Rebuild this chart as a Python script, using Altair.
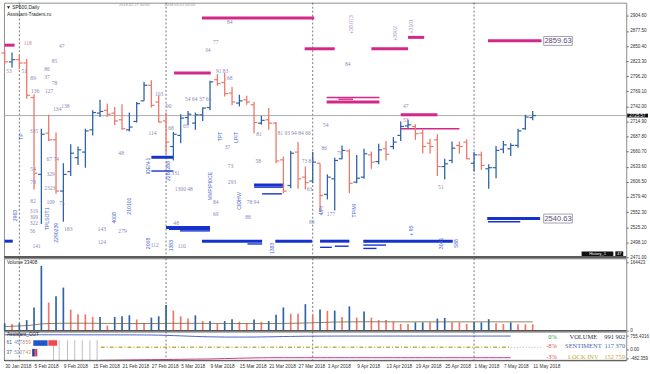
import altair as alt
import pandas as pd

# ---------------- data ----------------
date_idx = [0, 4, 8, 12, 16, 20, 24, 28, 32, 36, 40, 44, 48, 52, 56, 60, 64, 68, 72]
date_lbl = ["30 Jan 2018", "5 Feb 2018", "9 Feb 2018", "15 Feb 2018", "21 Feb 2018",
            "27 Feb 2018", "5 Mar 2018", "9 Mar 2018", "15 Mar 2018", "21 Mar 2018",
            "27 Mar 2018", "3 Apr 2018", "9 Apr 2018", "13 Apr 2018", "19 Apr 2018",
            "25 Apr 2018", "1 May 2018", "7 May 2018", "11 May 2018"]
price_ticks = [2471.00, 2498.10, 2525.20, 2552.30, 2579.40, 2606.50, 2633.60, 2660.70,
               2687.80, 2714.90, 2742.00, 2769.10, 2796.20, 2823.30, 2850.40, 2877.50, 2904.60]

opens = [2838, 2822, 2826, 2820, 2758, 2620, 2694, 2682, 2590, 2625,
         2650, 2660, 2700, 2730, 2735, 2730, 2718, 2700, 2715, 2752,
         2780, 2750, 2716, 2670, 2690, 2722, 2712, 2727, 2740, 2790,
         2785, 2766, 2748, 2754, 2745, 2712, 2718, 2712, 2646, 2600,
         2660, 2615, 2608, 2640, 2584, 2612, 2648, 2662, 2606, 2615,
         2655, 2643, 2666, 2670, 2690, 2707, 2706, 2694, 2676, 2682,
         2634, 2645, 2672, 2678, 2640, 2655, 2630, 2632, 2665, 2666,
         2672, 2702, 2722]
highs = [2843, 2839, 2836, 2827, 2764, 2702, 2727, 2695, 2640, 2674,
         2670, 2702, 2735, 2754, 2747, 2741, 2746, 2731, 2750, 2786,
         2789, 2761, 2731, 2696, 2728, 2734, 2731, 2740, 2788, 2800,
         2802, 2777, 2763, 2761, 2750, 2725, 2739, 2714, 2652, 2662,
         2678, 2634, 2660, 2640, 2620, 2650, 2672, 2665, 2655, 2666,
         2661, 2675, 2680, 2687, 2715, 2718, 2710, 2700, 2684, 2692,
         2648, 2679, 2679, 2683, 2660, 2661, 2638, 2671, 2680, 2676,
         2702, 2727, 2734]
lows = [2818, 2812, 2809, 2756, 2593, 2531, 2680, 2585, 2535, 2617,
        2637, 2632, 2690, 2723, 2723, 2708, 2700, 2697, 2713, 2752,
        2740, 2713, 2657, 2645, 2676, 2708, 2700, 2716, 2735, 2779,
        2760, 2744, 2742, 2745, 2694, 2709, 2700, 2640, 2586, 2595,
        2594, 2593, 2604, 2553, 2575, 2555, 2647, 2586, 2604, 2612,
        2630, 2638, 2645, 2665, 2680, 2703, 2682, 2658, 2657, 2617,
        2611, 2640, 2657, 2647, 2625, 2628, 2594, 2613, 2658, 2653,
        2668, 2700, 2717]
closes = [2822, 2826, 2820, 2762, 2622, 2692, 2682, 2590, 2620, 2658,
          2664, 2698, 2731, 2733, 2728, 2716, 2702, 2705, 2747, 2780,
          2744, 2714, 2678, 2692, 2721, 2728, 2727, 2739, 2786, 2783,
          2765, 2750, 2752, 2750, 2713, 2717, 2712, 2644, 2590, 2658,
          2612, 2605, 2642, 2582, 2615, 2645, 2663, 2604, 2613, 2657,
          2642, 2664, 2656, 2678, 2706, 2709, 2693, 2670, 2670, 2634,
          2639, 2667, 2670, 2648, 2655, 2636, 2632, 2663, 2673, 2672,
          2698, 2723, 2725.6]
cur_price = 2725.57

vols = [17800, 16200, 17800, 25500, 56300, 156700, 67900, 83400, 104200, 50900,
        39400, 39400, 33200, 33200, 12400, 33200, 34700, 37100, 27000, 19300,
        31600, 34700, 61800, 48600, 34700, 29300, 37100, 23200, 23200, 17800,
        23200, 27800, 21600, 17800, 27000, 21600, 23200, 38600, 56300, 40900,
        40900, 64100, 38600, 50900, 48000, 48600, 33200, 58700, 31600, 46300,
        31600, 25500, 25500, 21600, 16200, 16200, 20100, 20100, 20100, 29300,
        30900, 20100, 20100, 16200, 20100, 20100, 27800, 17800, 16200, 20100,
        15400, 15400, 15400]
vol_up = [1, 0, 1, 1, 1, 1, 0, 1, 1, 0, 0, 0, 0, 1, 0, 1, 1, 1, 0, 0,
          1, 1, 1, 0, 0, 0, 1, 0, 1, 0, 1, 1, 0, 0, 1, 0, 1, 1, 1, 0,
          0, 1, 0, 1, 0, 1, 0, 1, 0, 1, 0, 0, 0, 0, 0, 0, 1, 1, 0, 1,
          1, 0, 0, 0, 1, 1, 1, 0, 0, 1, 0, 0, 0]
vol_ma = [9900, 10600, 11400, 12300, 14000, 16500, 17200, 17600, 17900, 18000,
          18000, 17900, 17800, 17700, 17500, 17400, 17300, 17300, 17200, 17200,
          17300, 17400, 17700, 17800, 17800, 17700, 17700, 17600, 17500, 17400,
          17400, 17300, 17300, 17200, 17200, 17100, 17100, 17300, 17600, 17800,
          18100, 18600, 19000, 19600, 20200, 20800, 21100, 21300, 21400, 21500,
          21500, 21500, 21400, 21400, 21300, 21300, 21300, 21300, 21300, 21300,
          21300, 21300, 21300, 21300, 21300, 21300, 21300, 21300, 21300, 21300,
          21300, 21300, 21300]

sep_idx = [2, 22, 42, 64]

mag_x1 = [0.0, 26.9, 23.1, 40.9, 50.0, 55.0, 65.9, 43.9, 45.5, 43.9, 54.0, 54.0]
mag_x2 = [1.35, 42.2, 28.1, 45.0, 55.0, 57.2, 73.2, 51.1, 47.5, 51.1, 59.0, 62.0]
mag_p = [2852, 2901, 2802, 2845.5, 2845.5, 2866, 2860, 2758, 2755, 2750, 2727, 2702]
mag_k = ["heavy", "heavy", "heavy", "heavy", "heavy", "heavy", "heavy",
         "light", "light", "heavy", "heavy", "light"]

blu_x1 = [20.0, 20.0, 0.0, 22.0, 22.4, 23.9, 26.9, 36.9, 43.0, 48.9,
          34.0, 34.0, 35.1, 65.8, 65.9, 33.1, 43.0, 45.0, 48.9, 48.9]
blu_x2 = [23.0, 23.0, 1.1, 28.0, 28.0, 28.0, 35.1, 41.9, 47.0, 61.1,
          38.1, 38.1, 37.8, 73.0, 70.3, 35.1, 44.6, 46.9, 52.0, 50.7]
blu_p = [2650.7, 2626, 2500, 2524.5, 2521.5, 2518.5, 2500, 2500, 2500, 2500,
         2600.9, 2597, 2585, 2540.6, 2535, 2495, 2489, 2491, 2493, 2487]
blu_k = ["heavy", "light", "heavy", "heavy", "light", "light", "heavy", "heavy", "heavy", "heavy",
         "heavy", "light", "light", "heavy", "light", "light", "light", "light", "light", "light"]

ann_t = ["118", "47", "53", "51", "85", "86", "37", "78", "89", "136",
         "127", "134", "138", "103", "34", "77", "91 83", "54 64 37 64", "90", "84",
         "84", "54", "47", "53", "68", "51", "68", "65", "81", "37",
         "73", "293", "58", "73 84", "86", "89", "177", "78 94", "88", "84",
         "69", "63", "48", "114", "331", "1300 48", "48", "143", "124", "279",
         "112", "110", "335", "67 74", "54", "78", "329", "2323", "82", "109",
         "75", "319", "309", "322", "56", "183", "141", "81 93 94 84 66", "79"]
ann_x = [2.6, 7.4, 0.2, 2.3, 6.4, 5.4, 5.4, 6.4, 3.5, 3.6,
         5.5, 6.6, 7.7, 20.5, 27.3, 28.4, 28.8, 24.6, 22.0, 30.3,
         46.4, 43.4, 54.3, 54.3, 30.3, 59.1, 22.3, 24.3, 34.3, 30.0,
         30.4, 30.4, 34.2, 40.5, 43.2, 41.5, 43.9, 33.0, 32.8, 28.4,
         28.4, 41.2, 15.5, 19.6, 22.7, 23.2, 23.0, 12.7, 12.7, 15.5,
         19.9, 23.6, 3.4, 5.7, 3.5, 3.5, 5.7, 5.4, 3.5, 5.7,
         7.4, 3.4, 3.4, 3.4, 3.4, 8.1, 3.8, 37.2, 45.3]
ann_p = [2855, 2850, 2805, 2805, 2823, 2809, 2795, 2784, 2793, 2770,
         2770, 2738, 2743, 2765, 2843, 2857, 2805, 2756, 2743, 2893,
         2818, 2708, 2743, 2718, 2793, 2597, 2704, 2706, 2693, 2670,
         2635, 2606, 2644, 2644, 2668, 2535, 2549, 2571, 2544, 2571,
         2549, 2594, 2658, 2695, 2622, 2594, 2533, 2521, 2498, 2519,
         2494, 2492, 2697, 2648, 2630, 2607, 2620, 2595, 2572, 2570,
         2569, 2554, 2544, 2533, 2519, 2521, 2492, 2695, 2658]

rot_t = ["2963", "TPLSOT1", "2290239", "TP", "4008", "210101", "IDEN-1", "2288288",
         "MMPIPI0CE", "TPT", "LPIT", "CIDHV/", "1383", "TPIMI", "+ 95", "3041", "588",
         "2008", "1383", "4/Pr", "+38.073", "+3902", "+3101"]
rot_x = [1.35, 5.8, 7.0, 2.2, 14.9, 16.9, 19.6, 22.3, 28.0, 29.3, 31.5, 31.9,
         36.5, 47.6, 55.4, 59.5, 61.5, 19.6, 22.7, 43.2, 47.2, 53.2, 55.4]
rot_p = [2546, 2540, 2515, 2688, 2542, 2563, 2635, 2626, 2599, 2688, 2686, 2572,
         2487, 2555, 2519, 2496, 2496, 2496, 2492, 2555, 2889, 2873, 2886]
rot_k = ["blue"] * 20 + ["purple"] * 3

box_lbl = ["2859.63", "2540.63"]
box_p = [2859.63, 2540.63]

cot_blue = [830, 830, 828, 828, 826, 826, 825, 825, 824, 824,
            823, 823, 822, 822, 821, 821, 820, 820, 818, 816,
            812, 805, 795, 780, 765, 750, 735, 720, 712, 705,
            700, 698, 697, 698, 700, 705, 712, 720, 728, 735,
            740, 745, 748, 750, 752, 753, 754, 754, 754, 754,
            754, 754, 754, 754, 754, 754, 754, 754, 754, 754,
            754, 754, 754, 754, 754, 754, 754, 754, 754, 754]
pink_start = 13
cot_pink = [-595, -590, -585, -580, -575, -570, -565, -560, -555, -550,
            -545, -540, -535, -530, -525, -520, -510, -500, -490, -480,
            -470, -462, -456, -452, -450, -450, -450, -450, -450, -450,
            -450, -450, -450, -450, -450, -450, -450, -450, -450, -450,
            -450, -450, -450, -450, -450, -450, -450, -450, -450, -450,
            -450, -450, -450, -450, -450, -450, -450]
cot_mid = 130
cot_hist_x = [6.66, 7.43, 8.56, 9.55, 10.58, 11.62, 12.6]

pct_t = ["0%", "-8%", "-3%"]
name_t = ["VOLUME", "SENTIMENT", "LOCK INV"]
val_t = ["991 902", "117 370", "152 759"]
row_kind = ["vol", "sent", "lock"]

# ---------------- styles ----------------
BLUE = "#2f63a6"
RED = "#ee776c"
MAG = "#d3278a"
DBLUE = "#1632cc"
W, H1, H2, H3 = 628, 257, 73, 29
FONT = "Liberation Sans"

xs = alt.Scale(domain=[-0.1, 84.75], nice=False, zero=False)
ys1 = alt.Scale(domain=[2471.0, 2928.3], nice=False, zero=False)
ys2 = alt.Scale(domain=[0, 175000], nice=False, zero=False)
ys3 = alt.Scale(domain=[-600, 1000], nice=False, zero=False)

XN = alt.X("x:Q", scale=xs, axis=None)
pax = alt.Axis(orient="right", values=price_ticks, format=".2f", labelFontSize=4.6,
               labelFont=FONT, labelColor="#333", tickSize=2, tickColor="#666",
               domain=False, grid=False, title=None, labelPadding=1.5,
               labelFlush=False, labelOverlap=False)
YP = alt.Y("p:Q", scale=ys1, axis=pax)
width_of = {"heavy": 3.0, "light": 1.4}

# ---------------- price panel ----------------
ohlc = pd.DataFrame({"i": list(range(len(opens))), "o": opens, "h": highs, "l": lows, "c": closes})
ohlc["col"] = [BLUE if c >= o else RED for o, c in zip(opens, closes)]
COL = alt.Color("col:N", scale=None)

sep_df = pd.DataFrame({"x": sep_idx})
vsep_p = alt.Chart(sep_df).mark_rule(color="#555", strokeDash=[2, 2], strokeWidth=0.8).encode(x=XN)
curline = alt.Chart(pd.DataFrame({"p": [cur_price]})).mark_rule(color="#a3a3a3", strokeWidth=0.9).encode(y=YP)

magdf = pd.DataFrame({"x": mag_x1, "x2": mag_x2, "p": mag_p, "k": mag_k})
magdf["w"] = magdf["k"].map(width_of)
mag = alt.Chart(magdf).mark_rule(color=MAG).encode(
    x=XN, x2="x2:Q", y=YP, size=alt.Size("w:Q", scale=None))
bludf = pd.DataFrame({"x": blu_x1, "x2": blu_x2, "p": blu_p, "k": blu_k})
bludf["w"] = bludf["k"].map(width_of)
blu = alt.Chart(bludf).mark_rule(color=DBLUE).encode(
    x=XN, x2="x2:Q", y=YP, size=alt.Size("w:Q", scale=None))

hl = alt.Chart(ohlc).transform_calculate(x="datum.i", p="datum.l", p2="datum.h").mark_rule(
    strokeWidth=1.3).encode(x=XN, y=YP, y2="p2:Q", color=COL)
otk = alt.Chart(ohlc).transform_calculate(x="datum.i-0.45", x2="datum.i", p="datum.o").mark_rule(
    strokeWidth=1.2).encode(x=XN, x2="x2:Q", y=YP, color=COL)
ctk = alt.Chart(ohlc).transform_calculate(x="datum.i", x2="datum.i+0.45", p="datum.c").mark_rule(
    strokeWidth=1.2).encode(x=XN, x2="x2:Q", y=YP, color=COL)

anndf = pd.DataFrame({"x": ann_x, "p": ann_p, "t": ann_t})
anndf["col"] = ["#c9809c" if t == "118" else "#8d86b8" for t in ann_t]
ann = alt.Chart(anndf).mark_text(align="left", baseline="middle", fontSize=5.6,
                                 font="Liberation Serif").encode(
    x=XN, y=YP, text="t:N", color=alt.Color("col:N", scale=None))

rotdf = pd.DataFrame({"x": rot_x, "p": rot_p, "t": rot_t, "k": rot_k})
rotdf["col"] = rotdf["k"].map({"blue": "#4563c8", "purple": "#a796c8"})
rot = alt.Chart(rotdf).mark_text(angle=270, align="center", baseline="middle", fontSize=5.2,
                                 font=FONT).encode(
    x=XN, y=YP, text="t:N", color=alt.Color("col:N", scale=None))

boxdf = pd.DataFrame({"t": box_lbl, "pv": box_p})
lbox = alt.Chart(boxdf).transform_calculate(
    x="73.5", x2="77.4", p="datum.pv+8.0", p2="datum.pv-8.0").mark_rect(
    fill="white", stroke="#8a8a9a", strokeWidth=0.8).encode(x=XN, x2="x2:Q", y=YP, y2="p2:Q")
ltxt = alt.Chart(boxdf).transform_calculate(x="75.45", p="datum.pv").mark_text(
    align="center", baseline="middle", fontSize=7.6, font=FONT, color="#5a4a7c").encode(
    x=XN, y=YP, text="t:N")

pbox = alt.Chart(pd.DataFrame({"p": [cur_price + 3.4], "p2": [cur_price - 3.4]})).mark_rect(
    color="#111").encode(x=alt.value(629), x2=alt.value(650), y=YP, y2="p2:Q")
ptxt = alt.Chart(pd.DataFrame({"p": [cur_price], "t": ["2725.57"]})).mark_text(
    color="white", fontSize=4.6, align="left", baseline="middle", font=FONT).encode(
    x=alt.value(631), y=YP, text="t:N")

def pix_text(txt, px, py, size=5, color="#222", align="left", font=FONT):
    return alt.Chart(pd.DataFrame({"t": [txt]})).mark_text(
        align=align, baseline="middle", fontSize=size, color=color, font=font).encode(
        x=alt.value(px), y=alt.value(py), text="t:N")

def pix_rect(x1, x2, y1, y2, color):
    return alt.Chart(pd.DataFrame({"a": [0]})).mark_rect(color=color).encode(
        x=alt.value(x1), x2=alt.value(x2), y=alt.value(y1), y2=alt.value(y2))

title1 = pix_text("▼ SP500,Daily", 2, 4.5, 5)
title2 = pix_text("Assistant-Traders.ru", 3, 11.5, 5)
top1 = pix_text("2018.02.27 00:00", 116, 2.5, 4, "#999")
top2 = pix_text("2018.03.01 00:00", 162, 2.5, 4, "#999")
hist_b = pix_rect(583, 615, 251, 257, "#111")
hist_t = pix_text("History_1", 599, 254, 4, "white", "center")
h47_b = pix_rect(617, 625, 251, 257, "#111")
h47_t = pix_text("47", 621, 254, 4, "white", "center")
sep_bottom = alt.Chart(pd.DataFrame({"a": [0]})).mark_rule(color="#5a5a5a", strokeWidth=2.5).encode(
    x=alt.value(0), x2=alt.value(W), y=alt.value(H1))

price = alt.layer(
    vsep_p, curline, blu, mag, hl, otk, ctk, ann, rot, lbox, ltxt, pbox, ptxt,
    title1, title2, top1, top2, hist_b, hist_t, h47_b, h47_t, sep_bottom
).properties(width=W, height=H1)

# ---------------- volume panel ----------------
voldf = pd.DataFrame({"x": list(range(len(vols))), "v": vols, "ma": vol_ma})
voldf["col"] = [BLUE if u else RED for u in vol_up]
vax = alt.Axis(orient="right", values=[0, 164423], format="d", labelFontSize=4.6, labelFont=FONT,
               labelColor="#333", tickSize=2, tickColor="#666", domain=False, grid=False,
               title=None, labelPadding=1.5, labelFlush=False, labelOverlap=False)
vbars = alt.Chart(voldf).transform_calculate(z="0").mark_rule(strokeWidth=1.7).encode(
    x=XN, y=alt.Y("v:Q", scale=ys2, axis=vax), y2="z:Q", color=alt.Color("col:N", scale=None))
vma = alt.Chart(voldf).mark_line(color="#6f6540", strokeWidth=0.8).encode(
    x=XN, y=alt.Y("ma:Q", scale=ys2, axis=vax))
vsep_v = alt.Chart(sep_df).mark_rule(color="#555", strokeDash=[2, 2], strokeWidth=0.8).encode(x=XN)
vlabel = pix_text("Volume 33408", 3, 5, 4.8)
vbottom = alt.Chart(pd.DataFrame({"a": [0]})).mark_rule(color="#555", strokeWidth=1.5).encode(
    x=alt.value(0), x2=alt.value(W), y=alt.value(H2))
volume = alt.layer(vsep_v, vbars, vma, vlabel, vbottom).properties(width=W, height=H2)

# ---------------- indicator panel ----------------
lbl_js = "[" + ",".join("'" + s + "'" for s in date_lbl) + "][datum.value/4]"
xax = alt.Axis(orient="bottom", values=date_idx, labelExpr=lbl_js, labelAlign="left",
               labelFontSize=4.8, labelFont=FONT, labelColor="#333", ticks=False, domain=False,
               grid=False, title=None, labelPadding=3, labelFlush=False, labelOverlap=False)
XB = alt.X("x:Q", scale=xs, axis=xax)
iax = alt.Axis(orient="right", values=[-482.359, 0, 755.4316],
               labelExpr="datum.value > 700 ? '755.4316' : (datum.value < -400 ? '-482.359' : '0.00')",
               labelFontSize=4.6, labelFont=FONT, labelColor="#333", tickSize=2, tickColor="#666",
               domain=False, grid=False, title=None, labelPadding=1.5, labelFlush=False,
               labelOverlap=False)
YI = alt.Y("v:Q", scale=ys3, axis=iax)

vsep_i = alt.Chart(sep_df).mark_rule(color="#555", strokeDash=[2, 2], strokeWidth=0.8).encode(x=XB)
hist_df = pd.DataFrame({"x": cot_hist_x, "v": [520] * len(cot_hist_x), "v2": [-600] * len(cot_hist_x)})
ihist = alt.Chart(hist_df).mark_rule(color="#bdbdbd", strokeWidth=1).encode(x=XB, y=YI, y2="v2:Q")
bl_df = pd.DataFrame({"x": list(range(len(cot_blue))), "v": cot_blue})
iblue = alt.Chart(bl_df).mark_line(color="#4f62c8", strokeWidth=1).encode(x=XB, y=YI)
pk_df = pd.DataFrame({"x": list(range(pink_start, pink_start + len(cot_pink))), "v": cot_pink})
ipink = alt.Chart(pk_df).mark_line(color="#d03a8c", strokeWidth=1).encode(x=XB, y=YI)
mid_df = pd.DataFrame({"x": [13.1], "x2": [69.0], "v": [cot_mid]})
imid = alt.Chart(mid_df).mark_rule(color="#c5b04e", strokeWidth=1.6, strokeDash=[4, 2, 1, 2]).encode(
    x=XB, x2="x2:Q", y=YI)
dot_df = pd.DataFrame({"x": [69.0], "x2": [73.2], "v": [cot_mid]})
idot = alt.Chart(dot_df).mark_rule(color="#999", strokeWidth=0.8, strokeDash=[1, 2]).encode(
    x=XB, x2="x2:Q", y=YI)

lbox_df = pd.DataFrame({"x": [3.9, 5.95, 3.75, 4.15], "x2": [5.85, 7.16, 4.1, 4.45],
                        "v": [520, 520, 40, 40], "v2": [210, 210, -380, -380],
                        "col": ["#2155c9", "#f04a4a", "#23399a", "#e04040"]})
iboxes = alt.Chart(lbox_df).mark_rect().encode(x=XB, x2="x2:Q", y=YI, y2="v2:Q",
                                               color=alt.Color("col:N", scale=None))
ltx_df = pd.DataFrame({"x": [0.25, 1.3, 2.85, 0.25, 1.3, 2.85],
                       "v": [380, 380, 380, -170, -170, -170],
                       "t": ["61", "4578", "59", "37", "5207", "43"],
                       "col": ["#3555aa", "#8896b8", "#e08a40", "#3555aa", "#8896b8", "#e08a40"]})
iltx = alt.Chart(ltx_df).mark_text(align="left", baseline="middle", fontSize=4.8, font=FONT).encode(
    x=XB, y=YI, text="t:N", color=alt.Color("col:N", scale=None))

row_v = [720, 180, -440]
col_name = {"vol": "#2b2f4a", "sent": "#4a66b0", "lock": "#c4a640"}
col_pct = {"vol": "#2e9a40", "sent": "#e05050", "lock": "#e05050"}
rt_df = pd.DataFrame({"v": row_v, "pct": pct_t, "name": name_t, "val": val_t, "k": row_kind})
rt_df["cn"] = rt_df["k"].map(col_name)
rt_df["cp"] = rt_df["k"].map(col_pct)
ipct = alt.Chart(rt_df).transform_calculate(x="75.3").mark_text(
    align="right", baseline="middle", fontSize=6.5, font="Liberation Serif").encode(
    x=XB, y=YI, text="pct:N", color=alt.Color("cp:N", scale=None))
iname = alt.Chart(rt_df).transform_calculate(x="78.9").mark_text(
    align="center", baseline="middle", fontSize=6.5, font="Liberation Serif").encode(
    x=XB, y=YI, text="name:N", color=alt.Color("cn:N", scale=None))
ival = alt.Chart(rt_df).transform_calculate(x="84.6").mark_text(
    align="right", baseline="middle", fontSize=6.5, font="Liberation Serif").encode(
    x=XB, y=YI, text="val:N", color=alt.Color("cn:N", scale=None))
ilabel = pix_text("Assistant_COT", 3, 3.5, 4.8)
ibottom = alt.Chart(pd.DataFrame({"a": [0]})).mark_rule(color="#555", strokeWidth=1).encode(
    x=alt.value(0), x2=alt.value(W), y=alt.value(H3))

indic = alt.layer(vsep_i, ihist, iblue, ipink, imid, idot, iboxes, iltx, ipct, iname, ival,
                  ilabel, ibottom).properties(width=W, height=H3)

chart = alt.vconcat(price, volume, indic, spacing=1, padding=0, bounds="flush").resolve_scale(
    y="independent").configure_view(stroke="#8c8c8c", strokeWidth=1)

chart.save("out.html", embed_options={"renderer": "svg", "actions": False})
